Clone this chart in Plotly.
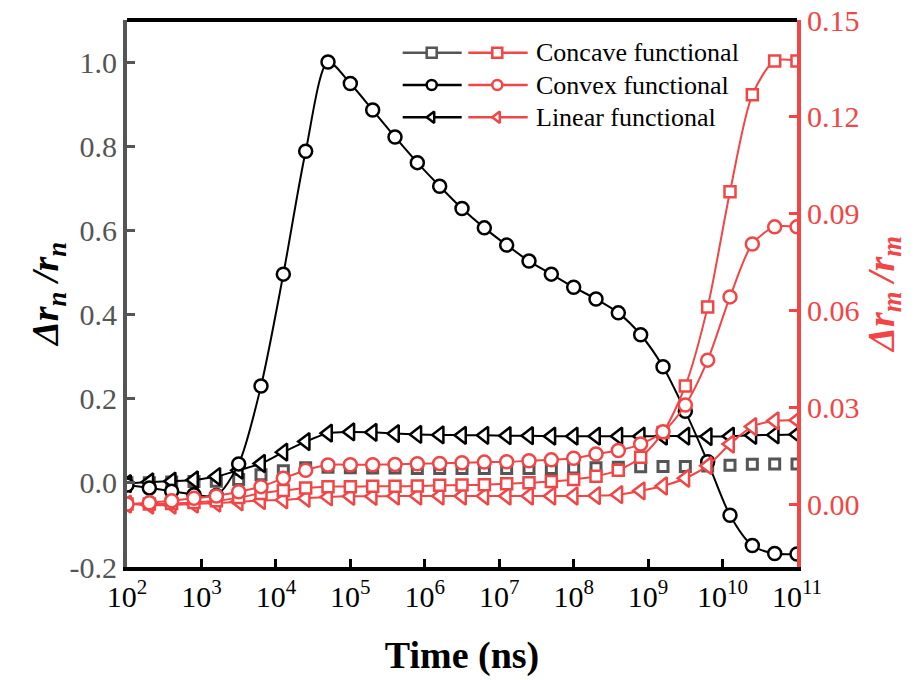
import plotly.graph_objects as go

# ---------------- data ----------------
time_exponent = [2.0, 2.3, 2.6, 2.9, 3.2, 3.5, 3.8, 4.1, 4.4, 4.7, 5.0, 5.3, 5.6, 5.9, 6.2, 6.5,
                 6.8, 7.1, 7.4, 7.7, 8.0, 8.3, 8.6, 8.9, 9.2, 9.5, 9.8, 10.1, 10.4, 10.7, 11.0]
time_ns = [10 ** e for e in time_exponent]

# left axis (Δr_n / r_n)
concave_n = [0.000, 0.000, 0.002, 0.003, 0.004, 0.008, 0.019, 0.029, 0.036, 0.037, 0.036, 0.035,
             0.035, 0.034, 0.034, 0.034, 0.034, 0.034, 0.034, 0.034, 0.035, 0.036, 0.037, 0.038,
             0.039, 0.039, 0.040, 0.042, 0.044, 0.045, 0.045]
convex_n = [-0.005, -0.012, -0.020, -0.028, -0.030, 0.045, 0.230, 0.496, 0.788, 1.000, 0.949,
            0.886, 0.822, 0.761, 0.705, 0.652, 0.606, 0.565, 0.527, 0.496, 0.465, 0.437, 0.404,
            0.352, 0.276, 0.170, 0.050, -0.077, -0.149, -0.168, -0.169]
linear_n = [-0.002, 0.002, 0.004, 0.007, 0.015, 0.030, 0.046, 0.073, 0.098, 0.118, 0.121, 0.120,
            0.117, 0.115, 0.114, 0.113, 0.113, 0.112, 0.112, 0.111, 0.111, 0.111, 0.111, 0.111,
            0.111, 0.111, 0.110, 0.111, 0.113, 0.114, 0.115]

# right axis (Δr_m / r_m)
concave_m = [0.0000, 0.0000, 0.0002, 0.0005, 0.0010, 0.0020, 0.0033, 0.0042, 0.0050, 0.0054,
             0.0054, 0.0055, 0.0055, 0.0056, 0.0058, 0.0059, 0.0060, 0.0063, 0.0066, 0.0070,
             0.0076, 0.0086, 0.0105, 0.0145, 0.0222, 0.0366, 0.0611, 0.0968, 0.1268, 0.1373,
             0.1373]
convex_m = [0.0000, 0.0004, 0.0010, 0.0018, 0.0025, 0.0038, 0.0054, 0.0080, 0.0105, 0.0121,
            0.0122, 0.0122, 0.0123, 0.0125, 0.0126, 0.0128, 0.0130, 0.0131, 0.0134, 0.0137,
            0.0142, 0.0155, 0.0166, 0.0186, 0.0224, 0.0307, 0.0446, 0.0642, 0.0806, 0.0859,
            0.0859]
linear_m = [0.0000, -0.0003, -0.0003, 0.0000, 0.0003, 0.0007, 0.0011, 0.0013, 0.0018, 0.0022,
            0.0024, 0.0024, 0.0025, 0.0025, 0.0025, 0.0025, 0.0025, 0.0025, 0.0025, 0.0025,
            0.0025, 0.0026, 0.0029, 0.0041, 0.0056, 0.0080, 0.0119, 0.0186, 0.0240, 0.0258,
            0.0260]

x_tick_exponents = [2, 3, 4, 5, 6, 7, 8, 9, 10, 11]
x_tick_labels = ["10<sup>%d</sup>" % e for e in x_tick_exponents]
left_ticks = [-0.2, 0.0, 0.2, 0.4, 0.6, 0.8, 1.0]
left_tick_labels = ["-0.2", "0.0", "0.2", "0.4", "0.6", "0.8", "1.0"]
right_ticks = [0.00, 0.03, 0.06, 0.09, 0.12, 0.15]
right_tick_labels = ["0.00", "0.03", "0.06", "0.09", "0.12", "0.15"]
legend_labels = ["Concave functional", "Convex functional", "Linear functional"]

# ---------------- style ----------------
RED = "#F24545"
GRAY = "#555555"
BLACK = "#000000"
FONT = "Liberation Serif"

fig = go.Figure()

# left-axis series
fig.add_trace(go.Scatter(x=time_ns, y=concave_n, mode="markers", showlegend=False,
                         marker=dict(symbol="square", size=10, color="white",
                                     line=dict(color=GRAY, width=3))))
fig.add_trace(go.Scatter(x=time_ns, y=linear_n, mode="lines+markers", showlegend=False,
                         line=dict(color=BLACK, width=2, shape="spline", smoothing=0.8),
                         marker=dict(symbol="triangle-left", size=15, color="white",
                                     line=dict(color=BLACK, width=2.5))))
fig.add_trace(go.Scatter(x=time_ns, y=convex_n, mode="lines+markers", showlegend=False,
                         line=dict(color=BLACK, width=2, shape="spline", smoothing=0.8),
                         marker=dict(symbol="circle", size=13, color="white",
                                     line=dict(color=BLACK, width=2.5))))

# right-axis series
fig.add_trace(go.Scatter(x=time_ns, y=linear_m, yaxis="y2", mode="lines+markers", showlegend=False,
                         line=dict(color=RED, width=2, shape="spline", smoothing=0.8),
                         marker=dict(symbol="triangle-left", size=15, color="white",
                                     line=dict(color=RED, width=2.5))))
fig.add_trace(go.Scatter(x=time_ns, y=concave_m, yaxis="y2", mode="lines+markers", showlegend=False,
                         line=dict(color=RED, width=2, shape="spline", smoothing=0.8),
                         marker=dict(symbol="square", size=11, color="white",
                                     line=dict(color=RED, width=2.5))))
fig.add_trace(go.Scatter(x=time_ns, y=convex_m, yaxis="y2", mode="lines+markers", showlegend=False,
                         line=dict(color=RED, width=2, shape="spline", smoothing=0.8),
                         marker=dict(symbol="circle", size=13, color="white",
                                     line=dict(color=RED, width=2.5))))

# ---------------- custom two-symbol legend (auxiliary pixel-like axes) ----------------
legend_rows_y = [52.7, 85.0, 117.3]
legend_symbols = ["square", "circle", "triangle-left"]
left_colors = [GRAY, BLACK, BLACK]
for ry, sym, lc in zip(legend_rows_y, legend_symbols, left_colors):
    fig.add_trace(go.Scatter(x=[402.7, 461.7], y=[ry, ry], xaxis="x3", yaxis="y3",
                             mode="lines", line=dict(color=lc, width=2.5),
                             showlegend=False, hoverinfo="skip"))
    fig.add_trace(go.Scatter(x=[431.7], y=[ry], xaxis="x3", yaxis="y3", mode="markers",
                             marker=dict(symbol=sym, size=10, color="white",
                                         line=dict(color=lc, width=2.5)),
                             showlegend=False, hoverinfo="skip"))
    fig.add_trace(go.Scatter(x=[468.3, 527.7], y=[ry, ry], xaxis="x3", yaxis="y3",
                             mode="lines", line=dict(color=RED, width=2.5),
                             showlegend=False, hoverinfo="skip"))
    fig.add_trace(go.Scatter(x=[497.3], y=[ry], xaxis="x3", yaxis="y3", mode="markers",
                             marker=dict(symbol=sym, size=10, color="white",
                                         line=dict(color=RED, width=2.5)),
                             showlegend=False, hoverinfo="skip"))

annotations = []
for ry, label in zip(legend_rows_y, legend_labels):
    annotations.append(dict(x=534, y=ry, xref="x3", yref="y3", text=label, showarrow=False,
                            xanchor="left", yanchor="middle",
                            font=dict(family=FONT, size=26, color=BLACK)))

# top frame line
shapes = [dict(type="line", xref="paper", yref="paper", x0=0, x1=1, y0=1, y1=1,
               line=dict(color=BLACK, width=4))]

fig.update_layout(
    width=921, height=680,
    margin=dict(l=127, r=124, t=20, b=113),
    paper_bgcolor="white", plot_bgcolor="white",
    font=dict(family=FONT, size=30, color=BLACK),
    xaxis=dict(type="log", range=[2, 11], automargin=False,
               tickvals=[10 ** e for e in x_tick_exponents], ticktext=x_tick_labels,
               showline=True, linecolor=BLACK, linewidth=4,
               ticks="inside", ticklen=8, tickwidth=3, tickcolor=BLACK,
               showgrid=False, zeroline=False,
               tickfont=dict(family=FONT, size=30, color=BLACK),
               title=dict(text="<b>Time (ns)</b>", font=dict(family=FONT, size=38, color=BLACK),
                          standoff=30)),
    yaxis=dict(range=[-0.2, 1.1], automargin=False, tickvals=left_ticks, ticktext=left_tick_labels,
               showline=True, linecolor=GRAY, linewidth=4,
               ticks="inside", ticklen=8, tickwidth=3, tickcolor=GRAY,
               showgrid=False, zeroline=False,
               tickfont=dict(family=FONT, size=30, color=GRAY),
               title=dict(text="<b><i>Δr<sub>n</sub> /r<sub>n</sub></i></b>",
                          font=dict(family=FONT, size=38, color=BLACK), standoff=0)),
    yaxis2=dict(range=[-0.0195, 0.15], automargin=False, tickvals=right_ticks,
                ticktext=right_tick_labels,
                overlaying="y", side="right", anchor="x",
                showline=True, linecolor=RED, linewidth=4,
                ticks="inside", ticklen=8, tickwidth=3, tickcolor=RED,
                showgrid=False, zeroline=False,
                tickfont=dict(family=FONT, size=30, color=RED),
                title=dict(text="<b><i>Δr<sub>m</sub> /r<sub>m</sub></i></b>",
                           font=dict(family=FONT, size=38, color=RED), standoff=6)),
    xaxis3=dict(overlaying="x", range=[127, 797], visible=False, anchor="y3"),
    yaxis3=dict(overlaying="y", range=[567, 20], visible=False, anchor="x3"),
    annotations=annotations,
    shapes=shapes,
    showlegend=False,
)

fig.write_html("out.html")
